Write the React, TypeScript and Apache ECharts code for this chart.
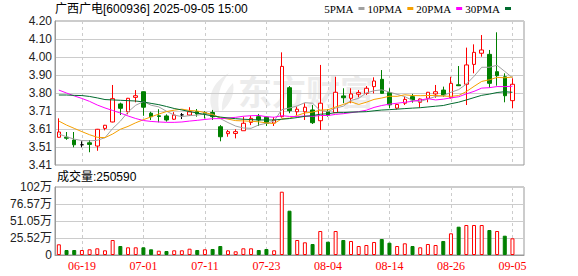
import React, { useEffect, useRef } from 'react';
import * as echarts from 'echarts';

const dates = [
  '06-16','06-17','06-18','06-19','06-20','06-23','06-24','06-25','06-26','06-27',
  '06-30','07-01','07-02','07-03','07-04','07-07','07-08','07-09','07-10','07-11',
  '07-14','07-15','07-16','07-17','07-18','07-21','07-22','07-23','07-24','07-25',
  '07-28','07-29','07-30','07-31','08-01','08-04','08-05','08-06','08-07','08-08',
  '08-11','08-12','08-13','08-14','08-15','08-18','08-19','08-20','08-21','08-22',
  '08-25','08-26','08-27','08-28','08-29','09-01','09-02','09-03','09-04','09-05',
];

const opens = [
  3.562,3.562,3.547,3.521,3.532,3.514,3.611,3.646,3.745,3.702,
  3.781,3.812,3.694,3.680,3.679,3.661,3.685,3.684,3.703,3.697,
  3.698,3.620,3.582,3.583,3.598,3.644,3.675,3.672,3.640,3.675,
  3.834,3.702,3.702,3.712,3.653,3.702,3.697,3.789,3.776,3.798,
  3.803,3.840,3.880,3.807,3.722,3.749,3.785,3.754,3.776,3.800,
  3.821,3.779,3.850,3.853,3.962,4.023,4.017,3.922,3.894,3.763,
];
const closes = [
  3.591,3.557,3.521,3.521,3.523,3.606,3.628,3.774,3.721,3.776,
  3.790,3.727,3.675,3.676,3.657,3.684,3.685,3.702,3.690,3.691,
  3.675,3.565,3.593,3.593,3.639,3.666,3.657,3.639,3.657,3.951,
  3.708,3.716,3.727,3.642,3.749,3.684,3.809,3.779,3.800,3.807,
  3.831,3.871,3.803,3.740,3.742,3.770,3.767,3.772,3.809,3.812,
  3.794,3.858,3.845,3.959,4.028,4.041,3.858,3.900,3.790,3.853,
];
const lows = [
  3.560,3.548,3.507,3.507,3.480,3.488,3.600,3.644,3.684,3.688,
  3.754,3.680,3.657,3.644,3.648,3.657,3.662,3.679,3.675,3.665,
  3.657,3.540,3.565,3.556,3.598,3.629,3.624,3.624,3.624,3.670,
  3.694,3.684,3.657,3.635,3.602,3.675,3.695,3.749,3.749,3.781,
  3.794,3.803,3.800,3.721,3.715,3.739,3.752,3.724,3.754,3.779,
  3.785,3.775,3.843,3.739,3.913,4.004,3.834,3.845,3.754,3.721,
];
const highs = [
  3.666,3.591,3.591,3.540,3.547,3.608,3.630,3.849,3.752,3.778,
  3.821,3.814,3.702,3.716,3.688,3.700,3.695,3.727,3.717,3.705,
  3.712,3.629,3.602,3.606,3.675,3.679,3.690,3.675,3.673,4.028,
  3.843,3.730,3.749,3.739,3.959,3.716,3.894,3.831,3.831,3.821,
  3.843,3.891,3.931,3.831,3.742,3.785,3.800,3.775,3.811,3.849,
  3.840,3.894,3.953,4.054,4.072,4.123,4.041,4.138,3.913,3.886,
];
const volumes = [
  160600,75000,75000,75000,85600,100600,70600,225200,135100,115600,
  115600,115600,85600,64600,60000,70600,70600,94600,75000,85600,
  90100,135100,70600,55500,100600,100600,75000,90100,70600,950300,
  665100,225200,190700,165100,360300,199700,360300,225200,210200,135100,
  150100,195200,240200,184700,135100,175700,135100,115600,165100,150100,
  210200,325800,424900,450400,450400,450400,375300,360300,289800,250590,
];

// MA values before enough in-window closes exist
const ma5Head = [3.580, 3.565, 3.552, 3.544];
const ma10Head = [3.651, 3.629, 3.611, 3.593, 3.576, 3.562, 3.560, 3.580, 3.606];
const ma20Head = [
  3.821,3.805,3.789,3.775,3.759,3.739,3.723,3.709,3.695,3.679,
  3.665,3.654,3.649,3.646,3.644,3.644,3.646,3.651,3.655,
];
const ma30Head = [
  3.794,3.794,3.792,3.791,3.786,3.778,3.769,3.767,3.765,3.763,
  3.761,3.756,3.748,3.741,3.731,3.720,3.712,3.703,3.695,3.687,
  3.679,3.673,3.668,3.664,3.661,3.659,3.657,3.657,3.657,
];

const priceTickLabels = ['3.41','3.51','3.61','3.71','3.80','3.90','4.00','4.10','4.20'];
const volumeTickLabels = ['0','25.52万','51.05万','76.57万','102万'];
const priceMin = 3.41;
const priceMax = 4.20;
const volumeMax = 1020920;

const maNames = ['5PMA', '10PMA', '20PMA', '30PMA'];
const maColors = ['#a0a0a0', '#f5a000', '#ff00ff', '#006b2e'];

function movingAverage(n: number, head: number[]) {
  return closes.map((_, i) => {
    if (i < n - 1) return head[i];
    let s = 0;
    for (let k = i - n + 1; k <= i; k++) s += closes[k];
    return Math.round((s / n) * 10000) / 10000;
  });
}

const labelEvery = (idx: number) => idx >= 3 && idx < dates.length && (idx - 3) % 8 === 0;

let logoRegistered = false;
function registerLogo() {
  if (logoRegistered) return;
  logoRegistered = true;
  const d = 'M6 38 C0 26 4 10 22 0 C12 12 10 24 12 38 Z M15 38 C14 26 20 16 26 10 C28 20 24 30 15 38 Z';
  echarts.graphic.registerShape('emLogo', echarts.graphic.extendPath(d, {}));
}

export default function App() {
  const ref = useRef<HTMLDivElement>(null);
  useEffect(() => {
    if (!ref.current) return;
    registerLogo();
    const chart = echarts.init(ref.current, undefined, { renderer: 'svg' });
    const categories = [...dates, ''];
    const candleData = closes.map((c, i) => {
      const v = [opens[i], c, lows[i], highs[i]];
      if (opens[i] === c) {
        return { value: v, itemStyle: { color: '#000', color0: '#000', borderColor: '#000', borderColor0: '#000' } };
      }
      return v;
    });
    const volData = volumes.map((v, i) => {
      const up = i === 0 ? closes[i] >= opens[i] : closes[i] >= closes[i - 1];
      return {
        value: v,
        itemStyle: up
          ? { color: '#fff', borderColor: '#ff0000', borderWidth: 1 }
          : { color: '#008000', borderColor: '#008000', borderWidth: 1 },
      };
    });
    const mas = [movingAverage(5, ma5Head), movingAverage(10, ma10Head), movingAverage(20, ma20Head), movingAverage(30, ma30Head)];
    const sans = 'Liberation Sans, Arial, Noto Sans CJK SC, sans-serif';
    const serif = 'Liberation Serif, serif';
    const splitDash = { show: true, interval: (i: number) => labelEvery(i), alignWithLabel: true, lineStyle: { color: '#cccccc', type: [3, 3], width: 1 } };

    chart.setOption({
      animation: false,
      backgroundColor: '#fff',
      title: [
        { text: '广西广电[600936] 2025-09-05 15:00', left: 55, top: 3, padding: 0,
          textStyle: { fontSize: 12, fontWeight: 'normal', color: '#000', fontFamily: sans } },
        { text: '成交量:' + volumes[volumes.length - 1], left: 57, top: 171, padding: 0,
          textStyle: { fontSize: 12, fontWeight: 'normal', color: '#000', fontFamily: sans } },
      ],
      legend: {
        data: maNames, right: 67, top: 3, padding: 0, itemGap: 3, itemWidth: 6, itemHeight: 3,
        icon: 'rect', align: 'right', selectedMode: false,
        textStyle: { fontSize: 11, color: '#000', fontFamily: serif, padding: 0 },
      },
      graphic: [
        { type: 'emLogo', x: 207, y: 73, z: 0, silent: true, style: { fill: '#eeeeee' } },
        { type: 'text', left: 238, top: 73, z: 0, silent: true,
          style: { text: '东方财富', fontSize: 34, fontWeight: 'bold', fill: '#ececec', fontFamily: 'Noto Sans CJK SC' } },
      ],
      grid: [
        { left: 55, right: 54, top: 21, height: 144, show: true, borderColor: '#999', borderWidth: 1 },
        { left: 55, right: 54, top: 187, height: 68, show: true, borderColor: '#999', borderWidth: 1 },
      ],
      xAxis: [
        { type: 'category', gridIndex: 0, data: categories,
          axisLabel: { show: false }, axisTick: { show: false }, axisLine: { show: false },
          splitLine: splitDash },
        { type: 'category', gridIndex: 1, data: categories,
          axisLabel: { interval: (i: number) => labelEvery(i), color: '#ff0000', fontSize: 12, fontFamily: serif, margin: 5 },
          axisTick: { show: false }, axisLine: { show: true, lineStyle: { color: '#999' } },
          splitLine: splitDash },
      ],
      yAxis: [
        { type: 'value', gridIndex: 0, min: 0, max: 8, interval: 1,
          axisLabel: { formatter: (v: number) => priceTickLabels[Math.round(v)], fontSize: 12, color: '#222', fontFamily: sans, margin: 3 },
          axisLine: { show: true, lineStyle: { color: '#999' } }, axisTick: { show: false },
          splitLine: { show: true, lineStyle: { color: '#cccccc', width: 1 } } },
        { type: 'value', gridIndex: 0, min: priceMin, max: priceMax, show: false, splitLine: { show: false } },
        { type: 'value', gridIndex: 1, min: 0, max: volumeMax, interval: volumeMax / 4,
          axisLabel: { formatter: (v: number) => volumeTickLabels[Math.round(v / (volumeMax / 4))], fontSize: 12, color: '#222', fontFamily: sans, margin: 3 },
          axisLine: { show: true, lineStyle: { color: '#999' } }, axisTick: { show: false },
          splitLine: { show: true, lineStyle: { color: '#cccccc', width: 1 } } },
      ],
      series: [
        ...maNames.map((name, k) => ({
          name, type: 'line', xAxisIndex: 0, yAxisIndex: 1, data: mas[k], symbol: 'none',
          color: maColors[k], lineStyle: { color: maColors[k], width: 1 }, z: 3, silent: true,
        })),
        { type: 'candlestick', xAxisIndex: 0, yAxisIndex: 1, data: candleData, barWidth: 4, z: 2,
          itemStyle: { color: '#fff', color0: '#008000', borderColor: '#ff0000', borderColor0: '#008000', borderWidth: 1 } },
        { type: 'bar', xAxisIndex: 1, yAxisIndex: 2, data: volData, barWidth: 4 },
      ],
    });
    return () => chart.dispose();
  }, []);
  return <div ref={ref} style={{ position: 'fixed', left: 0, top: 0, width: 578, height: 276 }} />;
}
